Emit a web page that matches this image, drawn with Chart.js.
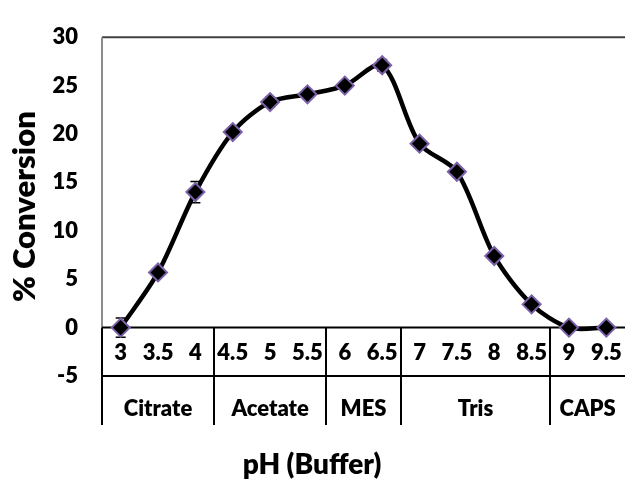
<!DOCTYPE html>
<html>
<head>
<meta charset="utf-8">
<script src="https://cdn.jsdelivr.net/npm/chart.js@4.4.1/dist/chart.umd.min.js"></script>
<style>
  html, body { margin: 0; padding: 0; background: #fff; }
  canvas { display: block; }
</style>
</head>
<body>
<canvas id="chart" width="636" height="483"></canvas>
<script>
// pH values tested, one per buffer step
const phLabels = ["3", "3.5", "4", "4.5", "5", "5.5", "6", "6.5", "7", "7.5", "8", "8.5", "9", "9.5"];
// mean % conversion at each pH
const conversion = [0, 5.7, 14.0, 20.2, 23.3, 24.1, 25.0, 27.1, 19.0, 16.1, 7.4, 2.4, 0, 0];
// standard deviation for the error bars
const errorBars = [1.0, 0.3, 1.1, 0.4, 0.5, 0.3, 0.3, 0.6, 0.3, 0.3, 0.3, 0.3, 0, 0];
// buffer used for each run of pH values
const bufferNames = ["Citrate", "Acetate", "MES", "Tris", "CAPS"];
const bufferSizes = [3, 3, 2, 4, 2];
const yMin = -5;
const yMax = 30;
const yStep = 5;

const FONT = "Lato, 'Open Sans', sans-serif";
const WEIGHT = "800";
const MARKER_EDGE = "#7b61a8";

// error bars, frame, pH row and buffer row under the curve
const bufferAxis = {
  id: "bufferAxis",
  beforeDatasetsDraw(chart) {
    const { ctx, chartArea: area, scales: { x, y } } = chart;
    const y0 = y.getPixelForValue(0);
    const yLow = y.getPixelForValue(yMin);
    const rowBottom = yLow + 49;
    const half = (x.getPixelForValue(1) - x.getPixelForValue(0)) / 2;

    ctx.save();
    // top border and grey value axis above zero
    ctx.lineWidth = 2;
    ctx.strokeStyle = "#404040";
    ctx.beginPath();
    ctx.moveTo(area.left, area.top);
    ctx.lineTo(area.right, area.top);
    ctx.stroke();
    ctx.strokeStyle = "#8c8c8c";
    ctx.beginPath();
    ctx.moveTo(area.left, area.top);
    ctx.lineTo(area.left, y0);
    ctx.stroke();

    // category table lines
    ctx.strokeStyle = "#000";
    ctx.beginPath();
    ctx.moveTo(area.left, y0);
    ctx.lineTo(area.right, y0);
    ctx.moveTo(area.left, yLow);
    ctx.lineTo(area.right, yLow);
    ctx.moveTo(area.left, y0);
    ctx.lineTo(area.left, rowBottom);
    let idx = 0;
    bufferSizes.forEach((n, g) => {
      idx += n;
      if (g < bufferSizes.length - 1) {
        const bx = Math.round(x.getPixelForValue(idx) - half);
        ctx.moveTo(bx, y0);
        ctx.lineTo(bx, rowBottom);
      }
    });
    ctx.stroke();

    // error bars
    ctx.lineWidth = 1.5;
    conversion.forEach((v, i) => {
      const e = errorBars[i];
      if (!e) return;
      const px = x.getPixelForValue(i);
      const top = y.getPixelForValue(v + e);
      const bot = y.getPixelForValue(v - e);
      ctx.beginPath();
      ctx.moveTo(px, top);
      ctx.lineTo(px, bot);
      ctx.moveTo(px - 5, top);
      ctx.lineTo(px + 5, top);
      ctx.moveTo(px - 5, bot);
      ctx.lineTo(px + 5, bot);
      ctx.stroke();
    });

    // pH labels between 0 and -5
    ctx.fillStyle = "#000";
    ctx.textAlign = "center";
    ctx.textBaseline = "middle";
    ctx.font = WEIGHT + " 22px " + FONT;
    phLabels.forEach((lab, i) => {
      ctx.fillText(lab, x.getPixelForValue(i), (y0 + yLow) / 2 + 1);
    });

    // buffer names
    let start = 0;
    bufferSizes.forEach((n, g) => {
      const left = x.getPixelForValue(start) - half;
      const right = Math.min(x.getPixelForValue(start + n - 1) + half, chart.width);
      ctx.fillText(bufferNames[g], (left + right) / 2, yLow + 33);
      start += n;
    });

    // axis title
    ctx.font = WEIGHT + " 28px " + FONT;
    ctx.fillText("pH (Buffer)", 312, 465);
    ctx.restore();
  }
};

new Chart(document.getElementById("chart"), {
  type: "line",
  data: {
    labels: phLabels,
    datasets: [{
      data: conversion,
      borderColor: "#000",
      borderWidth: 4.5,
      tension: 0.3,
      pointStyle: "rectRot",
      pointRadius: 9,
      pointHoverRadius: 9,
      pointBackgroundColor: "#000",
      pointBorderColor: MARKER_EDGE,
      pointBorderWidth: 2,
      clip: false
    }]
  },
  plugins: [bufferAxis],
  options: {
    responsive: false,
    animation: false,
    devicePixelRatio: 1,
    layout: { padding: { top: 24, right: -3, bottom: 107, left: 0 } },
    plugins: {
      legend: { display: false },
      tooltip: { enabled: false }
    },
    scales: {
      x: {
        type: "category",
        offset: true,
        display: false
      },
      y: {
        min: yMin,
        max: yMax,
        afterFit: (scale) => { scale.width = 102; },
        grid: { display: false, drawTicks: false },
        border: { display: false },
        ticks: {
          stepSize: yStep,
          padding: 24,
          color: "#000",
          font: { family: FONT, size: 22, weight: WEIGHT }
        },
        title: {
          display: true,
          text: "% Conversion",
          color: "#000",
          padding: { top: 6, bottom: 0 },
          font: { family: FONT, size: 31, weight: WEIGHT }
        }
      }
    }
  }
});
</script>
</body>
</html>
